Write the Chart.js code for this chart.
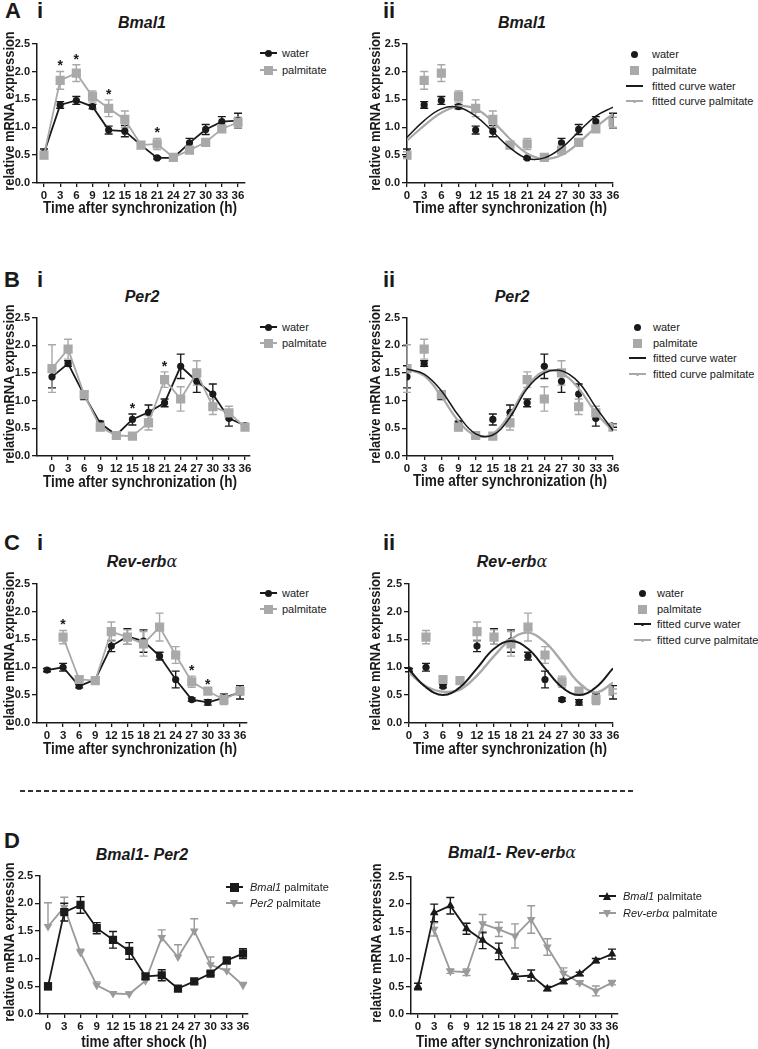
<!DOCTYPE html>
<html>
<head>
<meta charset="utf-8">
<script src="https://cdn.jsdelivr.net/npm/chart.js@4.4.1/dist/chart.umd.min.js"></script>
<style>
body{margin:0;background:#fff;width:758px;height:1049px;position:relative;overflow:hidden;font-family:"Liberation Sans",Arial,sans-serif;color:#1a1a1a}
canvas{position:absolute}
.t{position:absolute;white-space:nowrap;line-height:1;transform:translate(-50%,-50%)}
.lab{font-weight:bold;font-size:22px}
.title{font-weight:bold;font-style:italic;font-size:16px}
.xt{font-weight:bold;font-size:17px;transform:translate(-50%,-50%) scaleX(0.8)}
.yt{font-weight:bold;font-size:14.5px;transform:translate(-50%,-50%) rotate(-90deg) scaleX(0.89)}
.alpha{font-family:"DejaVu Serif",serif;font-style:italic;font-weight:normal}
.lg{position:absolute;white-space:nowrap;font-size:11px;line-height:1;transform:translateY(-50%)}
.mk{position:absolute}
</style>
</head>
<body>
<svg style="position:absolute;left:0;top:785px" width="758" height="12"><line x1="20" y1="6" x2="633" y2="6" stroke="#333" stroke-width="2" stroke-dasharray="5 3"/></svg>
<script>
// time points (h after synchronization)
var hours = [0, 3, 6, 9, 12, 15, 18, 21, 24, 27, 30, 33, 36];

// Bmal1
var bmal1Water    = [0.54, 1.40, 1.48, 1.37, 0.95, 0.93, 0.68, 0.45, 0.45, 0.72, 0.96, 1.10, 1.12];
var bmal1WaterSem = [0.07, 0.06, 0.07, 0.04, 0.07, 0.10, 0.04, 0.02, 0.02, 0.08, 0.09, 0.09, 0.13];
var bmal1Palm     = [0.50, 1.84, 1.97, 1.55, 1.34, 1.14, 0.68, 0.70, 0.46, 0.59, 0.73, 0.97, 1.09];
var bmal1PalmSem  = [0.06, 0.16, 0.15, 0.10, 0.15, 0.15, 0.05, 0.10, 0.04, 0.04, 0.03, 0.04, 0.09];
var bmal1Sig = [3, 6, 12, 21];
var bmal1FitWater = [0.82, 1.12, 1.33, 1.36, 1.20, 0.92, 0.63, 0.44, 0.45, 0.63, 0.92, 1.20, 1.36];
var bmal1FitPalm  = [0.76, 1.03, 1.26, 1.38, 1.33, 1.10, 0.79, 0.53, 0.43, 0.50, 0.72, 1.00, 1.24];

// Per2
var per2Water    = [1.43, 1.67, 1.10, 0.59, 0.38, 0.66, 0.79, 0.96, 1.62, 1.35, 1.12, 0.68, 0.55];
var per2WaterSem = [0.20, 0.05, 0.08, 0.04, 0.03, 0.10, 0.13, 0.07, 0.22, 0.20, 0.18, 0.14, 0.03];
var per2Palm     = [1.58, 1.93, 1.11, 0.52, 0.37, 0.36, 0.60, 1.38, 1.03, 1.50, 0.89, 0.78, 0.52];
var per2PalmSem  = [0.43, 0.18, 0.06, 0.06, 0.03, 0.04, 0.13, 0.14, 0.22, 0.22, 0.14, 0.12, 0.05];
var per2Sig = [15, 21];
var per2FitWater = [1.57, 1.48, 1.18, 0.73, 0.40, 0.38, 0.70, 1.22, 1.50, 1.54, 1.33, 0.88, 0.46];
var per2FitPalm  = [1.57, 1.45, 1.08, 0.63, 0.37, 0.40, 0.76, 1.26, 1.53, 1.50, 1.22, 0.78, 0.45];

// Rev-erb alpha
var revWater    = [0.95, 1.00, 0.66, 0.78, 1.38, 1.55, 1.47, 1.20, 0.78, 0.42, 0.37, 0.45, 0.55];
var revWaterSem = [0.03, 0.07, 0.03, 0.05, 0.10, 0.14, 0.20, 0.07, 0.15, 0.03, 0.05, 0.07, 0.12];
var revPalm     = [null, 1.54, 0.78, 0.76, 1.64, 1.54, 1.42, 1.72, 1.22, 0.74, 0.57, 0.42, 0.57];
var revPalmSem  = [null, 0.12, 0.04, 0.06, 0.17, 0.13, 0.22, 0.25, 0.15, 0.10, 0.03, 0.09, 0.04];
var revSig = [3, 27, 30];
var revFitWater = [0.96, 0.64, 0.50, 0.64, 0.98, 1.33, 1.47, 1.33, 0.98, 0.64, 0.50, 0.64, 0.98];
var revFitPalm  = [0.90, 0.66, 0.56, 0.60, 0.85, 1.20, 1.50, 1.62, 1.45, 1.10, 0.72, 0.55, 0.72];

var BLACK = '#1a1a1a', GRAY = '#a9a9a9', FONT = '"Liberation Sans", Arial, sans-serif';
Chart.defaults.font.family = FONT;
Chart.defaults.color = BLACK;

function pts(vals, sem) {
	var out = [];
	hours.forEach(function (h, i) {
		if (vals[i] != null) out.push({x: h, y: vals[i], e: sem ? sem[i] : null});
	});
	return out;
}

function series(vals, sem, color, style, extra) {
	var r = style === 'rect' ? 6.5 : (style === 'triangle' ? 5 : 3.6);
	return Object.assign({
		data: pts(vals, sem), borderColor: color, backgroundColor: color,
		pointStyle: style, pointRadius: r, pointBorderWidth: 0, borderWidth: 1.8,
		showLine: true, errors: true, errDir: 'both', tension: 0
	}, extra || {});
}

function fit(vals, color, w) {
	return {data: pts(vals), borderColor: color, borderWidth: w, pointRadius: 0, tension: 0.4, showLine: true, fill: false};
}

// error bars + significance stars, placed through the chart scales
var errorBars = {
	id: 'errorBars',
	beforeDatasetsDraw: function (chart) {
		var ctx = chart.ctx, xs = chart.scales.x, ys = chart.scales.y;
		ctx.save();
		chart.data.datasets.slice().reverse().forEach(function (ds) {
			if (!ds.errors) return;
			ctx.strokeStyle = ds.borderColor; ctx.lineWidth = 1.4;
			ds.data.forEach(function (p) {
				if (p.e == null) return;
				var px = xs.getPixelForValue(p.x);
				var hi = ys.getPixelForValue(p.y + p.e);
				var lo = ys.getPixelForValue(ds.errDir === 'up' ? p.y : p.y - p.e);
				ctx.beginPath();
				ctx.moveTo(px, hi); ctx.lineTo(px, lo);
				ctx.moveTo(px - 4, hi); ctx.lineTo(px + 4, hi);
				if (ds.errDir !== 'up') { ctx.moveTo(px - 4, lo); ctx.lineTo(px + 4, lo); }
				ctx.stroke();
			});
		});
		ctx.restore();
	},
	afterDatasetsDraw: function (chart, args, opts) {
		if (!opts.hours) return;
		var ctx = chart.ctx, xs = chart.scales.x, ys = chart.scales.y;
		ctx.save();
		ctx.font = 'bold 14px ' + FONT; ctx.textAlign = 'center'; ctx.fillStyle = BLACK;
		opts.hours.forEach(function (h) {
			var top = 0;
			chart.data.datasets.forEach(function (ds) {
				if (!ds.errors) return;
				ds.data.forEach(function (p) { if (p.x === h) top = Math.max(top, p.y + (p.e || 0)); });
			});
			var py = ys.getPixelForValue(top) - 9;
			ctx.fillText('*', xs.getPixelForValue(h), py + 8);
		});
		ctx.restore();
	}
};
Chart.register(errorBars);

function panel(cfg) {
	var left = cfg.axisX - 34, top = cfg.yTop - 8;
	var c = document.createElement('canvas');
	c.width = cfg.xEnd + 10 - left; c.height = cfg.yBot + 22 - top;
	c.style.left = left + 'px'; c.style.top = top + 'px';
	document.body.appendChild(c);
	var t0 = cfg.t0 || cfg.axisX, t36 = cfg.t36 || cfg.xEnd;
	var k = (t36 - t0) / 36;
	var axisGrid = {drawOnChartArea: false, drawTicks: true, tickLength: 5, color: BLACK, lineWidth: 1.3};
	new Chart(c, {
		type: 'line',
		data: {datasets: cfg.datasets},
		options: {
			responsive: false, animation: false, events: [],
			layout: {padding: {top: 8, right: 10, left: 0, bottom: 0}},
			plugins: {legend: {display: false}, tooltip: {enabled: false}, errorBars: {hours: cfg.sig}},
			scales: {
				x: {
					type: 'linear', min: -(t0 - cfg.axisX) / k, max: 36 + (cfg.xEnd - t36) / k,
					afterBuildTicks: function (s) { s.ticks = hours.map(function (v) { return {value: v}; }); },
					afterFit: function (s) { s.height = 22; },
					grid: Object.assign({}, axisGrid, {tickLength: 4}),
					border: {color: BLACK, width: 1.5},
					ticks: {font: {size: 11.5, weight: 'bold'}, padding: 2, maxRotation: 0, autoSkip: false, color: BLACK}
				},
				y: {
					min: 0, max: 2.5,
					afterFit: function (s) { s.width = 34; },
					grid: axisGrid,
					border: {color: BLACK, width: 1.5},
					ticks: {stepSize: 0.5, font: {size: 11, weight: 'bold'}, padding: 2, color: BLACK,
						callback: function (v) { return v.toFixed(1); }}
				}
			}
		}
	});
}

function text(cls, x, y, html) {
	var d = document.createElement('div');
	d.className = 't ' + cls;
	d.style.left = x + 'px'; d.style.top = y + 'px';
	d.innerHTML = html;
	document.body.appendChild(d);
}

function box(x, y, w, h, css) {
	var d = document.createElement('div');
	d.className = 'mk';
	d.style.cssText += ';left:' + x + 'px;top:' + y + 'px;width:' + w + 'px;height:' + h + 'px;' + css;
	document.body.appendChild(d);
}

function marker(kind, cx, cy, color) {
	if (kind === 'circle') box(cx - 3.5, cy - 3.5, 7, 7, 'border-radius:50%;background:' + color);
	else if (kind === 'square') box(cx - 4.5, cy - 4.5, 9, 9, 'background:' + color);
	else if (kind === 'dot') box(cx - 1.5, cy - 1.5, 3, 3, 'border-radius:50%;background:' + color);
	else if (kind === 'up') box(cx - 4.5, cy - 4.5, 0, 0, 'border-left:4.5px solid transparent;border-right:4.5px solid transparent;border-bottom:8px solid ' + color);
	else if (kind === 'down') box(cx - 4.5, cy - 3.5, 0, 0, 'border-left:4.5px solid transparent;border-right:4.5px solid transparent;border-top:8px solid ' + color);
}

function legend(cx, tx, ys, items) {
	items.forEach(function (it, i) {
		var y = ys[i];
		if (it.line) box(cx - 8.5, y - 0.9, 17, 1.8, 'background:' + it.color);
		if (it.marker) marker(it.marker, cx, y, it.color);
		var d = document.createElement('div');
		d.className = 'lg';
		d.style.left = tx + 'px'; d.style.top = y + 'px';
		d.innerHTML = it.label;
		document.body.appendChild(d);
	});
}

var ALPHA = '<span class="alpha">&alpha;</span>';
var XT = 'Time after synchronization (h)', YT = 'relative mRNA expression';

// ---------- A ----------
panel({axisX: 37, xEnd: 245, t0: 44, t36: 238, yTop: 43, yBot: 183, sig: bmal1Sig, datasets: [
	series(bmal1Palm, bmal1PalmSem, GRAY, 'rect'),
	series(bmal1Water, bmal1WaterSem, BLACK, 'circle')
]});
panel({axisX: 407, xEnd: 613, yTop: 43, yBot: 183, datasets: [
	fit(bmal1FitWater, BLACK, 1.5),
	fit(bmal1FitPalm, GRAY, 2.2),
	series(bmal1Palm, bmal1PalmSem, GRAY, 'rect', {showLine: false}),
	series(bmal1Water, bmal1WaterSem, BLACK, 'circle', {showLine: false})
]});
// ---------- B ----------
panel({axisX: 37, xEnd: 250, t0: 52, t36: 245, yTop: 317, yBot: 456, sig: per2Sig, datasets: [
	series(per2Palm, per2PalmSem, GRAY, 'rect'),
	series(per2Water, per2WaterSem, BLACK, 'circle')
]});
panel({axisX: 407, xEnd: 613, yTop: 317, yBot: 456, datasets: [
	fit(per2FitWater, BLACK, 1.5),
	fit(per2FitPalm, GRAY, 2.2),
	series(per2Palm, per2PalmSem, GRAY, 'rect', {showLine: false}),
	series(per2Water, per2WaterSem, BLACK, 'circle', {showLine: false})
]});
// ---------- C ----------
panel({axisX: 37, xEnd: 247, t0: 47, t36: 240, yTop: 583, yBot: 723, sig: revSig, datasets: [
	series(revPalm, revPalmSem, GRAY, 'rect'),
	series(revWater, revWaterSem, BLACK, 'circle')
]});
panel({axisX: 409, xEnd: 613, yTop: 583, yBot: 723, datasets: [
	fit(revFitWater, BLACK, 2),
	fit(revFitPalm, GRAY, 2.4),
	series(revPalm, revPalmSem, GRAY, 'rect', {showLine: false}),
	series(revWater, revWaterSem, BLACK, 'circle', {showLine: false})
]});
// ---------- D ----------
panel({axisX: 40, xEnd: 248, t0: 48, t36: 243, yTop: 875, yBot: 1014, datasets: [
	series(bmal1Palm, bmal1PalmSem, BLACK, 'rect', {pointRadius: 5.8}),
	series(per2Palm, per2PalmSem, '#9a9a9a', 'triangle', {rotation: 180, errDir: 'up'})
]});
panel({axisX: 411, xEnd: 618, t0: 418, t36: 612, yTop: 876, yBot: 1014, datasets: [
	series(bmal1Palm, bmal1PalmSem, BLACK, 'triangle'),
	series(revPalm, revPalmSem, '#9a9a9a', 'triangle', {rotation: 180})
]});

// ---------- text ----------
text('lab', 13, 11, 'A'); text('lab', 40, 11, 'i'); text('lab', 389, 11, 'ii');
text('lab', 12, 280, 'B'); text('lab', 40, 280, 'i'); text('lab', 389, 280, 'ii');
text('lab', 12, 543, 'C'); text('lab', 40, 543, 'i'); text('lab', 389, 543, 'ii');
text('lab', 12, 841, 'D');

text('title', 142, 23, 'Bmal1');
text('title', 522, 23, 'Bmal1');
text('title', 142, 297, 'Per2');
text('title', 512, 297, 'Per2');
text('title', 142, 562, 'Rev-erb' + ALPHA);
text('title', 512, 562, 'Rev-erb' + ALPHA);
text('title', 142, 855, 'Bmal1- Per2');
text('title', 512, 853, 'Bmal1- Rev-erb' + ALPHA);

text('xt', 140, 207, XT); text('xt', 510, 207, XT);
text('xt', 140, 481, XT); text('xt', 510, 480, XT);
text('xt', 140, 748, XT); text('xt', 510, 748, XT);
text('xt', 144, 1041, 'time after shock (h)'); text('xt', 513, 1041, XT);

text('yt', 9, 111, YT); text('yt', 375, 111, YT);
text('yt', 9, 384, YT); text('yt', 375, 384, YT);
text('yt', 9, 651, YT); text('yt', 375, 651, YT);
text('yt', 9, 942, YT); text('yt', 376, 943, YT);

// ---------- legends ----------
var lgI = [
	{label: 'water', color: BLACK, line: true, marker: 'circle'},
	{label: 'palmitate', color: GRAY, line: true, marker: 'square'}
];
var lgII = [
	{label: 'water', color: BLACK, marker: 'circle'},
	{label: 'palmitate', color: GRAY, marker: 'square'},
	{label: 'fitted curve water', color: BLACK, line: true},
	{label: 'fitted curve palmitate', color: GRAY, line: true, marker: 'dot'}
];
var lgIIc = lgII.slice(0, 2).concat([
	{label: 'fitted curve water', color: BLACK, line: true, marker: 'dot'},
	{label: 'fitted curve palmitate', color: GRAY, line: true, marker: 'dot'}
]);
legend(268, 282, [53, 70], lgI);
legend(634, 652, [54, 70, 86, 101], lgII);
legend(268, 282, [327, 343], lgI);
legend(637, 653, [327, 343, 358, 374], lgII);
legend(268, 282, [593, 609], lgI);
legend(642, 657, [593, 609, 624, 640], lgIIc);
legend(234, 250, [887, 903], [
	{label: '<i>Bmal1</i> palmitate', color: BLACK, line: true, marker: 'square'},
	{label: '<i>Per2</i> palmitate', color: '#9a9a9a', line: true, marker: 'down'}
]);
legend(607, 623, [896, 913], [
	{label: '<i>Bmal1</i> palmitate', color: BLACK, line: true, marker: 'up'},
	{label: '<i>Rev-erb</i>' + ALPHA + ' palmitate', color: '#9a9a9a', line: true, marker: 'down'}
]);
</script>
</body>
</html>
